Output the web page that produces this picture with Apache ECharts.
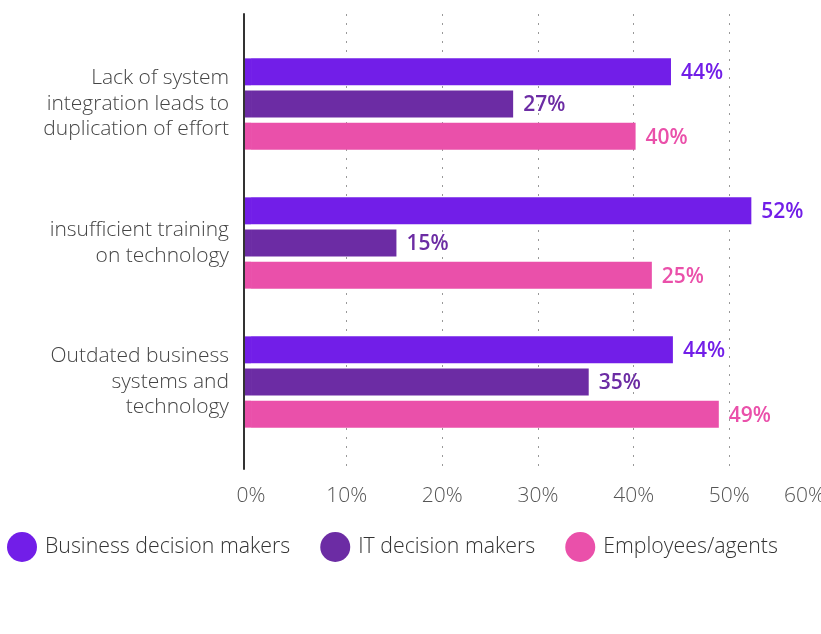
<!DOCTYPE html>
<html><head><meta charset="utf-8">
<script src="https://cdn.jsdelivr.net/npm/echarts@6/dist/echarts.min.js"></script>
<style>html,body{margin:0;padding:0;background:#fff}#c{width:821px;height:634px}</style>
</head><body><div id="c"></div>
<script>
const categories = ['Lack of system\nintegration leads to\nduplication of effort', 'insufficient training\non technology', 'Outdated business\nsystems and\ntechnology'];
const seriesNames = ['Business decision makers', 'IT decision makers', 'Employees/agents'];
const businessValues = [43.9, 52.3, 44.1];
const itValues = [27.4, 15.2, 35.3];
const employeesValues = [40.2, 41.9, 48.9];
const businessLabels = ['44%', '52%', '44%'];
const itLabels = ['27%', '15%', '35%'];
const employeesLabels = ['40%', '25%', '49%'];
const axisMin = 0, axisMax = 60, axisStep = 10;

// bars in the original start a little left of zero, at the axis line
const barLead = -0.63;
const colors = ['#721EE8', '#6C2CA4', '#EA50AA'];
const FONT = 'Open Sans';

const valuesList = [businessValues, itValues, employeesValues];
const labelsList = [businessLabels, itLabels, employeesLabels];

const series = [];
seriesNames.forEach((name, i) => {
  const common = {
    type: 'bar', xAxisIndex: 1, yAxisIndex: 1, stack: 's' + i,
    barWidth: 27, barGap: '19%', itemStyle: { color: colors[i] },
    silent: true
  };
  series.push(Object.assign({}, common, {
    name: '_lead' + i,
    data: categories.map(() => barLead),
    label: { show: false }
  }));
  series.push(Object.assign({}, common, {
    name: name,
    data: valuesList[i],
    label: {
      show: true, position: 'right', distance: 10, offset: [0, 1.5],
      formatter: p => labelsList[i][p.dataIndex],
      fontFamily: FONT, fontWeight: 600, fontSize: 21, color: colors[i]
    }
  }));
});

const chart = echarts.init(document.getElementById('c'), null, { renderer: 'canvas' });
chart.setOption({
  animation: false,
  textStyle: { fontFamily: FONT },
  grid: [
    { left: 251, width: 574, top: 14, bottom: 165, outerBoundsMode: 'none', containLabel: false },
    { left: 245, width: 580, top: 34.5, bottom: 182.5, outerBoundsMode: 'none', containLabel: false }
  ],
  xAxis: [
    {
      gridIndex: 0, type: 'value', min: axisMin, max: axisMax, interval: axisStep,
      axisLine: { show: false }, axisTick: { show: false },
      axisLabel: { formatter: '{value}%', fontSize: 21, color: '#555', fontWeight: 300, fontFamily: FONT, margin: 17, alignMaxLabel: 'right' },
      splitLine: { show: true, showMinLine: false, lineStyle: { type: [2, 7], color: '#999', width: 1 } }
    },
    { gridIndex: 1, type: 'value', min: barLead, max: axisMax, show: false }
  ],
  yAxis: [
    {
      gridIndex: 0, type: 'category', data: [''], offset: 7,
      axisLine: { show: true, onZero: false, lineStyle: { color: '#333', width: 2 } },
      axisTick: { show: false }, axisLabel: { show: false }, splitLine: { show: false }
    },
    {
      gridIndex: 1, type: 'category', data: categories, inverse: true,
      axisLine: { show: false, onZero: false }, axisTick: { show: false },
      axisLabel: { fontSize: 21, lineHeight: 25.5, color: '#444', fontWeight: 300, fontFamily: FONT, margin: 16 }
    }
  ],
  legend: {
    data: seriesNames, left: 7, top: 532, icon: 'circle', itemWidth: 30, itemHeight: 30,
    itemGap: 30, padding: 0,
    textStyle: { fontSize: 21.3, color: '#333', fontWeight: 300, fontFamily: FONT, padding: [0, 0, 0, 3] }
  },
  series: series
});
</script></body></html>
